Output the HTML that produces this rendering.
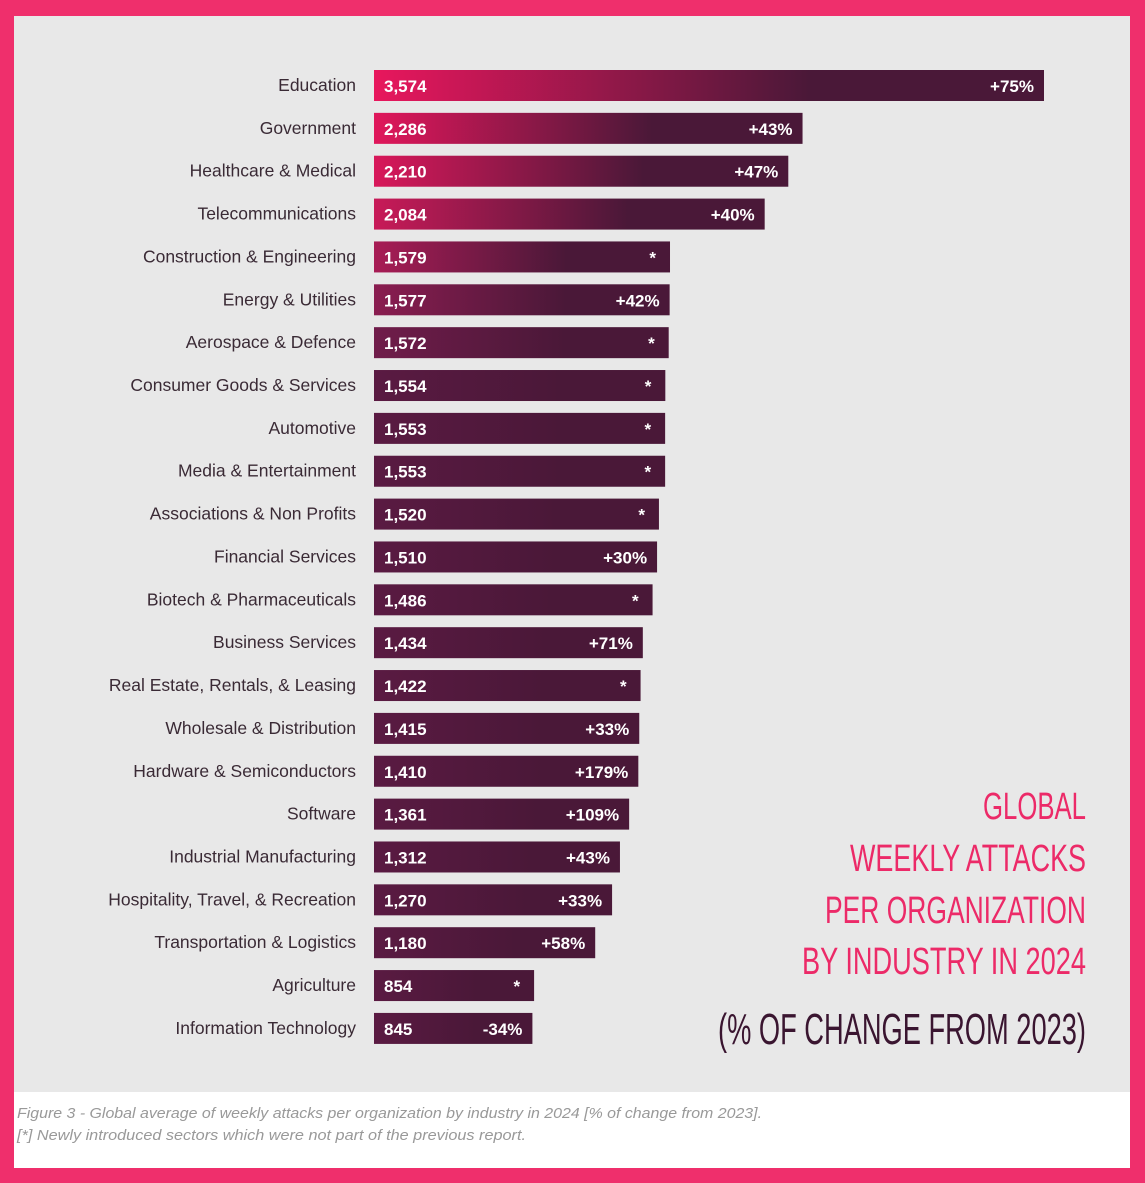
<!DOCTYPE html>
<html><head><meta charset="utf-8"><style>
html,body{margin:0;padding:0;background:#ef2f6c;}
svg{display:block}
text{font-family:"Liberation Sans",sans-serif}
</style></head><body>
<svg id="chart" width="1145" height="1183" viewBox="0 0 1145 1183" xmlns="http://www.w3.org/2000/svg">
<rect x="0" y="0" width="1145" height="1183" fill="#ef2f6c"/>
<rect x="14" y="16" width="1116" height="1076" fill="#e8e8e8"/>
<rect x="14" y="1092" width="1116" height="76" fill="#ffffff"/>
<defs id="defs"></defs>
<g id="bars"></g>
<g fill="#ec2a68" font-size="38" text-anchor="end">
<text x="1086" y="819" textLength="103" lengthAdjust="spacingAndGlyphs">GLOBAL</text>
<text x="1086" y="871" textLength="236" lengthAdjust="spacingAndGlyphs">WEEKLY ATTACKS</text>
<text x="1086" y="923" textLength="261" lengthAdjust="spacingAndGlyphs">PER ORGANIZATION</text>
<text x="1086" y="974" textLength="284" lengthAdjust="spacingAndGlyphs">BY INDUSTRY IN 2024</text>
</g>
<text x="1086" y="1044" font-size="44" fill="#3a1530" text-anchor="end" textLength="368" lengthAdjust="spacingAndGlyphs">(% OF CHANGE FROM 2023)</text>
<text x="17" y="1118" font-size="15" font-style="italic" fill="#999" textLength="745" lengthAdjust="spacingAndGlyphs">Figure 3 - Global average of weekly attacks per organization by industry in 2024 [% of change from 2023].</text>
<text x="17" y="1140" font-size="15" font-style="italic" fill="#999" textLength="509" lengthAdjust="spacingAndGlyphs">[*] Newly introduced sectors which were not part of the previous report.</text>
</svg>
<script>
const categories=["Education","Government","Healthcare & Medical","Telecommunications","Construction & Engineering","Energy & Utilities","Aerospace & Defence","Consumer Goods & Services","Automotive","Media & Entertainment","Associations & Non Profits","Financial Services","Biotech & Pharmaceuticals","Business Services","Real Estate, Rentals, & Leasing","Wholesale & Distribution","Hardware & Semiconductors","Software","Industrial Manufacturing","Hospitality, Travel, & Recreation","Transportation & Logistics","Agriculture","Information Technology"];
const values=[3574,2286,2210,2084,1579,1577,1572,1554,1553,1553,1520,1510,1486,1434,1422,1415,1410,1361,1312,1270,1180,854,845];
const changes=["+75%","+43%","+47%","+40%","*","+42%","*","*","*","*","*","+30%","*","+71%","*","+33%","+179%","+109%","+43%","+33%","+58%","*","-34%"];
const startColors=["#e8175d","#e0175b","#d8185a","#c81a58","#a81c55","#8a1d50","#701c4a","#5a1a42"];
const NS="http://www.w3.org/2000/svg";
const x0=374, xScale=v=>v*(670/3574);
const yCenter=i=>85+i*42.86;
const bars=document.getElementById('bars'), defs=document.getElementById('defs');
categories.forEach((c,i)=>{
  const w=xScale(values[i]), yc=yCenter(i);
  const g=document.createElementNS(NS,'linearGradient');
  g.setAttribute('id','g'+i);g.setAttribute('x1','0');g.setAttribute('x2','1');
  const s1=document.createElementNS(NS,'stop');s1.setAttribute('offset','0');s1.setAttribute('stop-color',startColors[Math.min(i,startColors.length-1)]);
  const s2=document.createElementNS(NS,'stop');s2.setAttribute('offset','0.65');s2.setAttribute('stop-color','#4a1838');
  g.appendChild(s1);g.appendChild(s2);defs.appendChild(g);
  const r=document.createElementNS(NS,'rect');
  r.setAttribute('x',x0);r.setAttribute('y',yc-15);r.setAttribute('width',w);r.setAttribute('height',31);
  r.setAttribute('fill','url(#g'+i+')');
  
  
  bars.appendChild(r);
  const l=document.createElementNS(NS,'text');
  l.setAttribute('x',356);l.setAttribute('y',yc+6);l.setAttribute('text-anchor','end');
  l.setAttribute('font-size','17.5');l.setAttribute('fill','#3a2a35');l.textContent=c;
  
  
  bars.appendChild(l);
  const v=document.createElementNS(NS,'text');
  v.setAttribute('x',384);v.setAttribute('y',yc+7);v.setAttribute('font-size','17');
  v.setAttribute('font-weight','bold');v.setAttribute('fill','#fff');
  v.textContent=values[i].toLocaleString('en-US');
  
  
  bars.appendChild(v);
  const p=document.createElementNS(NS,'text');
  p.setAttribute('x',x0+w-(changes[i]==='*'?14:10));p.setAttribute('y',yc+7);p.setAttribute('text-anchor','end');
  p.setAttribute('font-size','17');p.setAttribute('font-weight','bold');p.setAttribute('fill','#fff');
  p.textContent=changes[i];
  
  
  bars.appendChild(p);
});
</script>
</body></html>
